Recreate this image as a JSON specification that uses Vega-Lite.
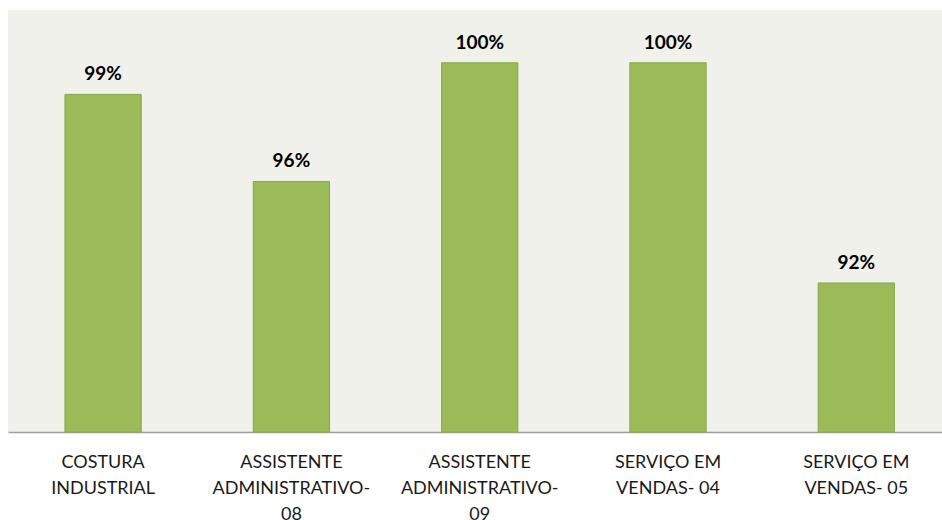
{
  "$schema": "https://vega.github.io/schema/vega-lite/v6.json",
  "width": 934,
  "height": 422,
  "autosize": {"type": "none"},
  "padding": {"left": 8, "top": 10, "right": 0, "bottom": 88},
  "background": "#ffffff",
  "config": {
    "view": {"fill": "#EFF1EA", "stroke": null},
    "font": "Lato"
  },
  "data": {
    "values": [
      {"cargo": "COSTURA INDUSTRIAL", "valor": 98.8, "rotulo": "99%"},
      {"cargo": "ASSISTENTE ADMINISTRATIVO-08", "valor": 95.5, "rotulo": "96%"},
      {"cargo": "ASSISTENTE ADMINISTRATIVO-09", "valor": 100, "rotulo": "100%"},
      {"cargo": "SERVIÇO EM VENDAS- 04", "valor": 100, "rotulo": "100%"},
      {"cargo": "SERVIÇO EM VENDAS- 05", "valor": 91.65, "rotulo": "92%"}
    ]
  },
  "encoding": {
    "x": {
      "field": "cargo",
      "type": "nominal",
      "sort": null,
      "scale": {"paddingInner": 0.595, "paddingOuter": 0.2776, "align": 0.545},
      "axis": {
        "title": null,
        "labelAngle": 0,
        "ticks": false,
        "domainColor": "#A0A0A0",
        "domainWidth": 1.5,
        "labelFont": "Lato",
        "labelFontSize": 18,
        "labelColor": "#1A1A1A",
        "labelBaseline": "top",
        "labelPadding": 21,
        "labelLineHeight": 26,
        "labelLimit": 300,
        "labelExpr": "{'COSTURA INDUSTRIAL': ['COSTURA', 'INDUSTRIAL'], 'ASSISTENTE ADMINISTRATIVO-08': ['ASSISTENTE', 'ADMINISTRATIVO-', '08'], 'ASSISTENTE ADMINISTRATIVO-09': ['ASSISTENTE', 'ADMINISTRATIVO-', '09'], 'SERVIÇO EM VENDAS- 04': ['SERVIÇO EM', 'VENDAS- 04'], 'SERVIÇO EM VENDAS- 05': ['SERVIÇO EM', 'VENDAS- 05']}[datum.value]"
      }
    },
    "y": {
      "field": "valor",
      "type": "quantitative",
      "scale": {"domain": [86, 102], "zero": false, "nice": false},
      "axis": null
    }
  },
  "layer": [
    {
      "mark": {"type": "bar", "fill": "#9BBB59", "stroke": "#86A84A", "strokeWidth": 1},
      "encoding": {"y2": {"datum": 86}}
    },
    {
      "mark": {"type": "text", "baseline": "alphabetic", "dy": -14, "font": "Lato", "fontWeight": "bold", "fontSize": 19, "color": "#000000"},
      "encoding": {"text": {"field": "rotulo"}}
    }
  ]
}
